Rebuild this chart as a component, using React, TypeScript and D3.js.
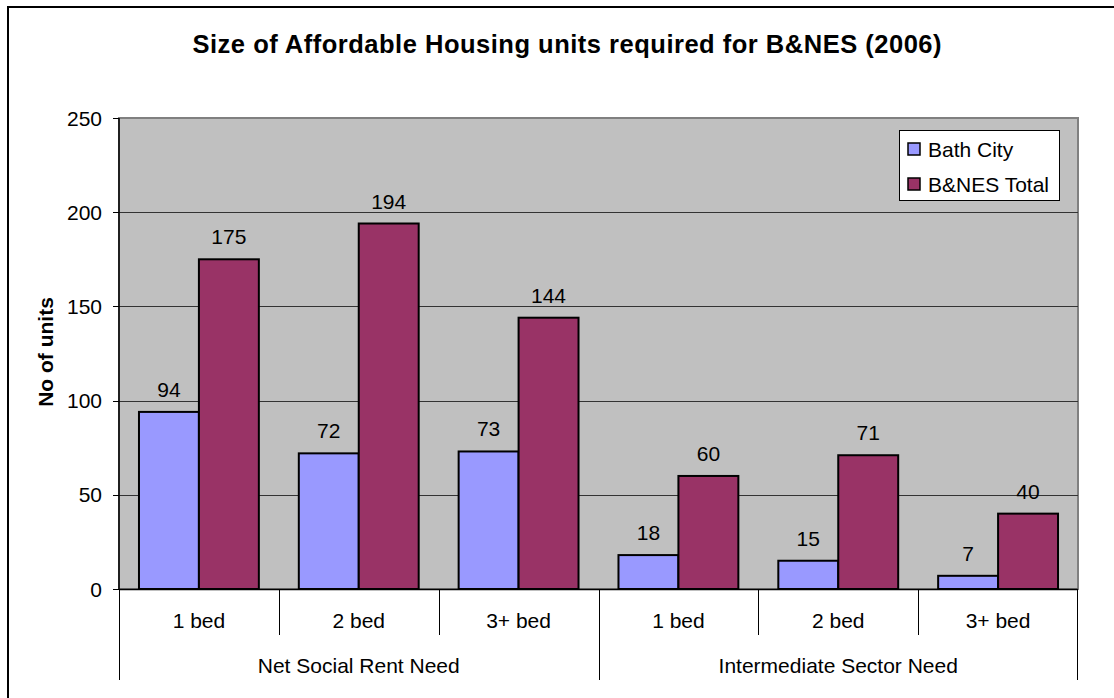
import React from "react";
import * as d3 from "d3";

const categories = ["1 bed", "2 bed", "3+ bed", "1 bed", "2 bed", "3+ bed"];
const groups = ["Net Social Rent Need", "Intermediate Sector Need"];
const groupSizes = [3, 3];
const seriesNames = ["Bath City", "B&NES Total"];
const bathCity = [94, 72, 73, 18, 15, 7];
const bnesTotal = [175, 194, 144, 60, 71, 40];
const yTicks = [0, 50, 100, 150, 200, 250];
const title = "Size of Affordable Housing units required for B&NES (2006)";
const yTitle = "No of units";

const colors = ["#9999FF", "#993366"];
const FONT = "Arial, 'Liberation Sans', sans-serif";

export default function App() {
  const W = 1114, H = 698;
  const left = 119, right = 1078, top = 118, bottom = 589;
  const idx = categories.map((_, i) => i);
  const x = d3.scaleBand<number>().domain(idx).range([left, right]).paddingInner(0).paddingOuter(0);
  const xs = d3.scaleBand<number>().domain([0, 1]).range([0, x.bandwidth()]).paddingInner(0).paddingOuter(1 / 3);
  const y = d3.scaleLinear().domain([0, 250]).range([bottom, top]);
  const series = [bathCity, bnesTotal];

  const groupBounds: { start: number; end: number; name: string }[] = [];
  let acc = 0;
  groups.forEach((g, gi) => {
    const s = acc;
    const e = acc + groupSizes[gi];
    groupBounds.push({ start: x(s)!, end: e < categories.length ? x(e)! : right, name: g });
    acc = e;
  });

  return (
    <svg width={W} height={H} style={{ position: "absolute", left: 0, top: 0, background: "#fff" }} fontFamily={FONT}>
      <rect x={8} y={7} width={W + 10} height={H + 10} fill="#fff" stroke="#000" strokeWidth={2} />
      <text x={567} y={53} textAnchor="middle" fontSize={25.5} fontWeight="bold" textLength={749} lengthAdjust="spacing">{title}</text>

      <rect x={left} y={top} width={right - left} height={bottom - top} fill="#C0C0C0" stroke="#808080" strokeWidth={2} />
      {yTicks.filter(t => t > 0 && t < 250).map(t => (
        <line key={t} x1={left} x2={right} y1={Math.round(y(t)) + 0.5} y2={Math.round(y(t)) + 0.5} stroke="#333" strokeWidth={1} />
      ))}

      {series.map((vals, si) => vals.map((v, i) => (
        <rect key={`${si}-${i}`} x={x(i)! + xs(si)!} y={y(v)} width={xs.bandwidth()} height={y(0) - y(v)} fill={colors[si]} stroke="#000" strokeWidth={2} />
      )))}
      {series.map((vals, si) => vals.map((v, i) => (
        <text key={`l${si}-${i}`} x={x(i)! + xs(si)! + xs.bandwidth() / 2} y={y(v) - 15} textAnchor="middle" fontSize={21} fill="#000">{v}</text>
      )))}

      <line x1={left} x2={left} y1={top} y2={bottom} stroke="#000" strokeWidth={1.5} />
      {yTicks.map(t => (
        <g key={t}>
          <line x1={113} x2={left} y1={Math.round(y(t)) + 0.5} y2={Math.round(y(t)) + 0.5} stroke="#000" strokeWidth={1} />
          <text x={102} y={y(t)} dy="0.36em" textAnchor="end" fontSize={21}>{t}</text>
        </g>
      ))}
      <text transform={`translate(53,352) rotate(-90)`} textAnchor="middle" fontSize={21} fontWeight="bold">{yTitle}</text>

      <line x1={left} x2={right} y1={bottom + 0.5} y2={bottom + 0.5} stroke="#000" strokeWidth={1.5} />
      {idx.map(i => (
        <g key={i}>
          <line x1={Math.round(x(i)!) + 0.5} x2={Math.round(x(i)!) + 0.5} y1={bottom} y2={635} stroke="#000" strokeWidth={1} />
          <text x={x(i)! + x.bandwidth() / 2} y={628} textAnchor="middle" fontSize={21}>{categories[i]}</text>
        </g>
      ))}
      {groupBounds.map((g, gi) => (
        <g key={gi}>
          <line x1={Math.round(g.start) + 0.5} x2={Math.round(g.start) + 0.5} y1={bottom} y2={680} stroke="#000" strokeWidth={1} />
          <text x={(g.start + g.end) / 2} y={673} textAnchor="middle" fontSize={21}>{g.name}</text>
        </g>
      ))}
      <line x1={right - 0.5} x2={right - 0.5} y1={bottom} y2={680} stroke="#000" strokeWidth={1} />

      <rect x={899.5} y={130.5} width={160} height={70} fill="#fff" stroke="#000" strokeWidth={1} />
      {seriesNames.map((n, i) => (
        <g key={n}>
          <rect x={908} y={143 + i * 35} width={12} height={12} fill={colors[i]} stroke="#000" strokeWidth={1.5} />
          <text x={928} y={149 + i * 35} dy="0.36em" fontSize={21}>{n}</text>
        </g>
      ))}
    </svg>
  );
}
